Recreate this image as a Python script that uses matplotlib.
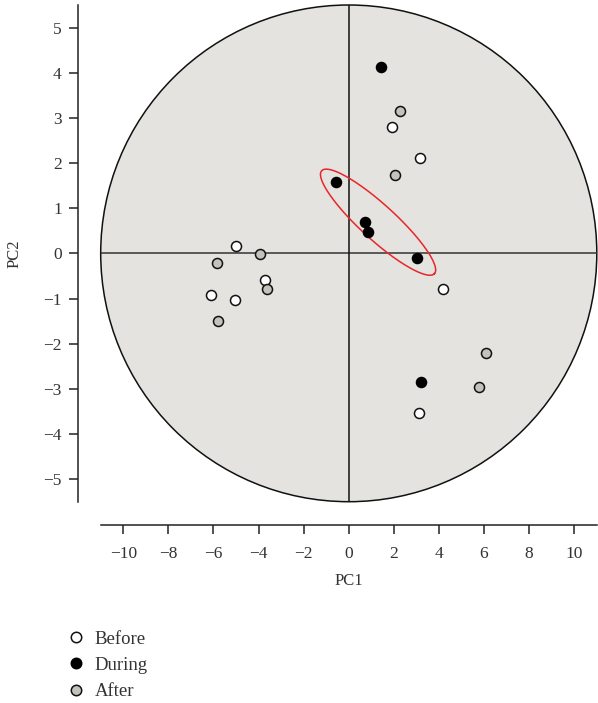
import numpy as np
import matplotlib
matplotlib.use("Agg")
import matplotlib.pyplot as plt
from matplotlib.patches import Ellipse
from matplotlib.lines import Line2D

plt.rcParams['font.family'] = ['Liberation Serif', 'DejaVu Serif']

# Data (PC1, PC2)
before_pc1 = [-4.98, -6.12, -5.06, -3.73, 1.90, 3.15, 4.20, 3.12]
before_pc2 = [0.17, -0.92, -1.03, -0.59, 2.80, 2.11, -0.80, -3.53]
during_pc1 = [1.44, -0.57, 0.74, 0.86, 3.03, 3.22]
during_pc2 = [4.13, 1.59, 0.69, 0.47, -0.11, -2.85]
after_pc1 = [-3.95, -5.85, -3.63, -5.80, 2.29, 2.04, 6.09, 5.79]
after_pc2 = [-0.01, -0.22, -0.80, -1.49, 3.16, 1.74, -2.20, -2.96]

# Confidence ellipse parameters (data units)
ell_center = (1.30, 0.69)
ell_major = (2.50, -1.14)
ell_minor = (0.523, 0.285)

xticks = [-10, -8, -6, -4, -2, 0, 2, 4, 6, 8, 10]
yticks = [-5, -4, -3, -2, -1, 0, 1, 2, 3, 4, 5]

fig = plt.figure(figsize=(5.98, 7.03), dpi=100)
ax = fig.add_axes([100.7/598, 1-501.7/703, (598-100.7)/598 - 0.002, (501.7-5)/703])
ax.set_xlim(-11, 11)
ax.set_ylim(-5.5, 5.5)
ax.set_facecolor('none')

circ = Ellipse((0, 0), 22, 11, facecolor='#e4e3df', edgecolor='#111111', lw=1.1, zorder=0, clip_on=False)
ax.add_patch(circ)
ax.axhline(0, color='#333333', lw=1.1, zorder=1)
ax.axvline(0, color='#111111', lw=1.1, zorder=1)

t = np.linspace(0, 2*np.pi, 300)
ex = ell_center[0] + np.cos(t)*ell_major[0] + np.sin(t)*ell_minor[0]
ey = ell_center[1] + np.cos(t)*ell_major[1] + np.sin(t)*ell_minor[1]
ax.plot(ex, ey, color='#e8262a', lw=1.1, zorder=2)

ms = 52
ax.scatter(before_pc1, before_pc2, s=ms, facecolor='white', edgecolor='#111111', linewidth=1.1, zorder=3)
ax.scatter(during_pc1, during_pc2, s=ms, facecolor='black', edgecolor='black', linewidth=1.1, zorder=3)
ax.scatter(after_pc1, after_pc2, s=ms, facecolor='#c3c2bc', edgecolor='#111111', linewidth=1.1, zorder=3)

for side in ['top', 'right']:
    ax.spines[side].set_visible(False)
for side in ['left', 'bottom']:
    ax.spines[side].set_position(('outward', 16.5))
    ax.spines[side].set_linewidth(1.1)
    ax.spines[side].set_color('#222222')

ax.set_xticks(xticks)
ax.set_yticks(yticks)
ax.set_xticklabels([str(v).replace('-', '\u2212') for v in xticks])
ax.set_yticklabels([str(v).replace('-', '\u2212') for v in yticks])
ax.tick_params(axis='both', direction='out', length=6.5, width=1.1, color='#222222',
               labelsize=12.5, labelcolor='#333333')
ax.tick_params(axis='x', pad=9)
ax.tick_params(axis='y', pad=5)
ax.set_xlabel('PC1', fontsize=12, color='#333333', labelpad=8)
ax.set_ylabel('PC2', fontsize=12, color='#333333', labelpad=15)

handles = [
    Line2D([], [], ls='none', marker='o', markersize=7.5, markerfacecolor='white', markeredgecolor='#111111', markeredgewidth=1.1),
    Line2D([], [], ls='none', marker='o', markersize=7.5, markerfacecolor='black', markeredgecolor='black', markeredgewidth=1.1),
    Line2D([], [], ls='none', marker='o', markersize=7.5, markerfacecolor='#c3c2bc', markeredgecolor='#111111', markeredgewidth=1.1),
]
fig.legend(handles, ['Before', 'During', 'After'], loc='upper left',
           bbox_to_anchor=(58/598, 1-621/703), frameon=False, fontsize=13.5,
           handlelength=0.9, handletextpad=0.55, labelspacing=0.49, borderpad=0,
           labelcolor='#333333')

fig.savefig('out.png', dpi=100)
